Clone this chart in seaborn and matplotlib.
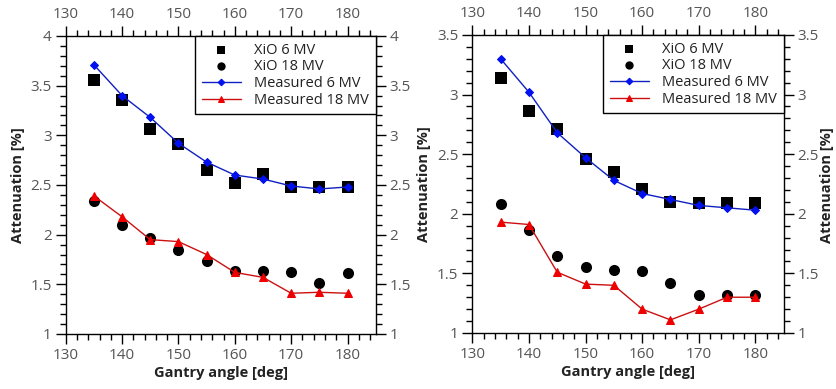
import matplotlib
matplotlib.use("Agg")
import matplotlib.pyplot as plt
import seaborn as sns
import pandas as pd
from matplotlib.ticker import MultipleLocator, FuncFormatter

angles = [135, 140, 145, 150, 155, 160, 165, 170, 175, 180]

# Left panel
xio6_a = [3.56, 3.36, 3.06, 2.91, 2.65, 2.52, 2.61, 2.48, 2.48, 2.48]
xio18_a = [2.34, 2.10, 1.97, 1.85, 1.73, 1.63, 1.63, 1.62, 1.51, 1.61]
meas6_a = [3.71, 3.40, 3.18, 2.92, 2.73, 2.60, 2.56, 2.49, 2.46, 2.48]
meas18_a = [2.39, 2.18, 1.95, 1.93, 1.80, 1.62, 1.57, 1.41, 1.42, 1.41]

# Right panel
xio6_b = [3.14, 2.86, 2.71, 2.46, 2.35, 2.21, 2.10, 2.09, 2.09, 2.09]
xio18_b = [2.085, 1.86, 1.65, 1.55, 1.53, 1.52, 1.42, 1.32, 1.32, 1.32]
meas6_b = [3.30, 3.02, 2.68, 2.47, 2.28, 2.17, 2.12, 2.07, 2.05, 2.03]
meas18_b = [1.93, 1.91, 1.51, 1.41, 1.40, 1.20, 1.11, 1.20, 1.30, 1.30]

labels = ["XiO 6 MV", "XiO 18 MV", "Measured 6 MV", "Measured 18 MV"]
xlabel = "Gantry angle [deg]"
ylabel = "Attenuation [%]"

sns.set_style("ticks")
plt.rcParams['font.family'] = ['Open Sans', 'DejaVu Sans']
plt.rcParams['font.size'] = 10

fig = plt.figure(figsize=(8.37, 3.89), dpi=100)
ax1 = fig.add_axes([0.0785, 0.1414, 0.3704, 0.7661])
ax2 = fig.add_axes([0.5643, 0.1440, 0.3720, 0.7661])

tick_color = "#555555"
fmt = FuncFormatter(lambda v, p: "%g" % round(v, 3))

def draw(ax, xio6, xio18, m6, m18, ymax):
    df = pd.DataFrame({"angle": angles, "xio6": xio6, "xio18": xio18,
                       "m6": m6, "m18": m18})
    sns.scatterplot(data=df, x="angle", y="xio6", ax=ax, marker="s", s=64,
                    color="black", edgecolor="black", linewidth=0, label=labels[0], zorder=3)
    sns.scatterplot(data=df, x="angle", y="xio18", ax=ax, marker="o", s=64,
                    color="black", edgecolor="black", linewidth=0, label=labels[1], zorder=3)
    sns.lineplot(data=df, x="angle", y="m6", ax=ax, marker="D", markersize=4.5,
                 color="#1020c0", markerfacecolor="#0010ee", markeredgecolor="#0010ee",
                 linewidth=1.0, label=labels[2], zorder=4)
    sns.lineplot(data=df, x="angle", y="m18", ax=ax, marker="^", markersize=6,
                 color="#cc1010", markerfacecolor="#ee0000", markeredgecolor="#ee0000",
                 linewidth=1.0, label=labels[3], zorder=4)
    ax.set_xlim(130, 185)
    ax.set_ylim(1, ymax)
    ax.xaxis.set_major_locator(MultipleLocator(10))
    ax.xaxis.set_minor_locator(MultipleLocator(2))
    ax.yaxis.set_major_locator(MultipleLocator(0.5))
    ax.yaxis.set_minor_locator(MultipleLocator(0.1))
    ax.yaxis.set_major_formatter(fmt)
    ax.tick_params(which="both", direction="out", top=True, right=True,
                   labeltop=True, labelright=True, color="black",
                   labelcolor=tick_color, labelsize=11, width=1)
    ax.tick_params(which="major", length=7, pad=3)
    ax.tick_params(which="minor", length=4)
    for sp in ax.spines.values():
        sp.set_visible(True)
        sp.set_color("black")
        sp.set_linewidth(1.0)
    ax.set_xlabel(xlabel, fontweight="bold", fontsize=10.5, color="#222222", labelpad=2)
    ax.set_ylabel(ylabel, fontweight="bold", fontsize=10.5, color="#222222", labelpad=4)
    leg = ax.legend(loc="upper right", borderaxespad=0, frameon=True, fancybox=False,
                    edgecolor="black", fontsize=10.5, handlelength=2.7, markerscale=0.75,
                    handletextpad=0.9, labelspacing=0.12, borderpad=0.45)
    leg.get_frame().set_linewidth(1.0)
    leg.get_frame().set_alpha(1)
    for t in leg.get_texts():
        t.set_color("#222222")

draw(ax1, xio6_a, xio18_a, meas6_a, meas18_a, 4)
draw(ax2, xio6_b, xio18_b, meas6_b, meas18_b, 3.5)

fig.text(0.997, 0.525, ylabel, rotation=90, ha="right", va="center",
         fontweight="bold", fontsize=10.5, color="#222222")

fig.savefig("out.png", dpi=100)
